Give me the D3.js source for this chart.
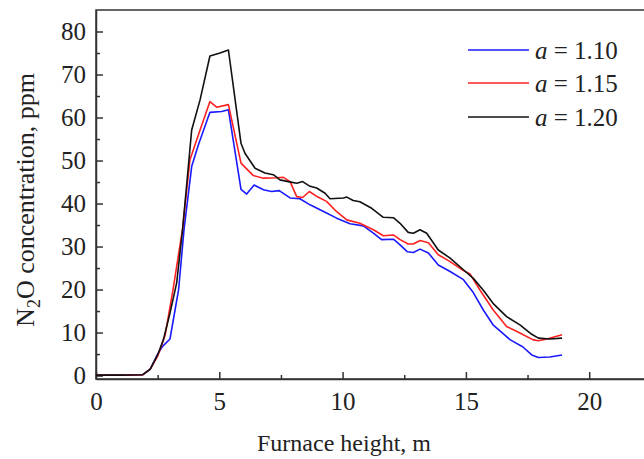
<!DOCTYPE html>
<html>
<head>
<meta charset="utf-8">
<script src="https://cdn.jsdelivr.net/npm/d3@7"></script>
<style>
  body { margin: 0; background: #fff; }
  svg { display: block; }
  text { font-family: "Liberation Serif", "Times New Roman", serif; fill: #222; }
</style>
</head>
<body>
<svg id="chart" width="644" height="459"></svg>
<script>
// ---- data ----
const blueX = [0, 1, 1.9, 2.2, 2.5, 2.7, 3.0, 3.35, 3.57, 3.88, 4.15, 4.62, 5.1, 5.37, 5.88, 6.11, 6.41, 6.79, 7.12, 7.43, 7.87, 8.27, 8.68, 9.35, 9.76, 10.3, 10.84, 11.25, 11.58, 12.06, 12.33, 12.62, 12.87, 13.14, 13.48, 13.88, 14.36, 14.9, 15.3, 15.7, 16.1, 16.8, 17.3, 17.67, 17.94, 18.4, 18.9];
const blueY = [0.1, 0.1, 0.2, 1.5, 5.0, 6.8, 8.5, 20, 34, 48.6, 53.6, 61.2, 61.4, 61.8, 43.3, 42.2, 44.3, 43.2, 42.8, 43.0, 41.3, 41.1, 39.7, 37.8, 36.6, 35.3, 34.8, 33.1, 31.6, 31.7, 30.4, 28.8, 28.6, 29.4, 28.5, 25.7, 24.2, 22.3, 19.3, 15.3, 11.8, 8.3, 6.7, 4.8, 4.2, 4.3, 4.8];

const redX = [0, 1, 1.9, 2.2, 2.5, 2.8, 3.13, 3.51, 3.81, 4.22, 4.62, 4.89, 5.37, 5.88, 6.38, 6.79, 7.33, 7.6, 7.87, 8.14, 8.38, 8.65, 9.0, 9.35, 9.76, 10.17, 10.7, 11.25, 11.65, 12.06, 12.33, 12.66, 12.87, 13.14, 13.48, 13.88, 14.36, 14.9, 15.17, 15.57, 16.1, 16.65, 17.19, 17.73, 17.94, 18.28, 18.9];
const redY = [0.1, 0.1, 0.2, 1.5, 4.5, 9.3, 20.2, 34.1, 50.2, 57.1, 63.7, 62.4, 63.0, 49.4, 46.5, 45.9, 46.0, 46.1, 45.1, 41.6, 41.4, 42.8, 41.5, 40.5, 38.1, 36.2, 35.4, 33.9, 32.5, 32.7, 31.6, 30.6, 30.6, 31.4, 30.9, 28.1, 26.5, 24.4, 23.6, 19.9, 15.3, 11.4, 9.9, 8.3, 8.1, 8.5, 9.5];

const blackX = [0, 1, 1.9, 2.2, 2.5, 2.73, 3.0, 3.27, 3.51, 3.88, 4.22, 4.62, 5.03, 5.37, 5.88, 6.04, 6.45, 6.85, 7.19, 7.46, 7.8, 8.14, 8.38, 8.68, 8.95, 9.29, 9.49, 10.03, 10.17, 10.43, 10.7, 11.18, 11.65, 12.06, 12.33, 12.66, 12.87, 13.14, 13.41, 13.88, 14.36, 14.9, 15.3, 15.7, 16.1, 16.65, 17.19, 17.67, 17.94, 18.4, 18.9];
const blackY = [0.1, 0.1, 0.2, 1.5, 4.8, 8.3, 14.5, 21.5, 33.9, 57.1, 64.1, 74.3, 75.0, 75.7, 54.0, 51.7, 48.2, 47.1, 46.7, 45.5, 45.1, 44.7, 45.1, 44.0, 43.6, 42.4, 41.1, 41.3, 41.5, 40.7, 40.4, 38.9, 36.8, 36.7, 35.4, 33.3, 33.1, 33.9, 33.1, 29.2, 27.3, 24.6, 22.6, 19.9, 16.8, 13.7, 11.8, 9.6, 8.7, 8.5, 8.7];

const seriesLabels = ["1.10", "1.15", "1.20"];
const seriesColors = ["#1a1aff", "#ff2020", "#111111"];
const xTicks = [0, 5, 10, 15, 20];
const yTicks = [0, 10, 20, 30, 40, 50, 60, 70, 80];
const xLabel = "Furnace height, m";

// ---- layout ----
const svg = d3.select("#chart");
const mLeft = 96, mTop = 10, mBottom = 379;
const x = d3.scaleLinear().domain([0, 22.5]).range([mLeft, mLeft + 22.5 * 24.66]);
const y = d3.scaleLinear().domain([-0.8, 85]).range([mBottom, mTop]);

const axisColor = "#333";

// frame (top + right off-canvas)
svg.append("rect")
  .attr("x", mLeft).attr("y", mTop)
  .attr("width", x(22.5) - mLeft).attr("height", mBottom - mTop)
  .attr("fill", "none").attr("stroke", axisColor).attr("stroke-width", 1.5);

// x axis
const xAxis = d3.axisBottom(x).tickValues(xTicks).tickSizeInner(-7).tickSizeOuter(0).tickPadding(13).tickFormat(d3.format("d"));
const gx = svg.append("g").attr("transform", `translate(0,${mBottom})`).call(xAxis);
gx.select(".domain").attr("stroke", axisColor).attr("stroke-width", 1.5);
gx.selectAll(".tick line").attr("stroke", axisColor).attr("stroke-width", 1.5);
gx.selectAll("text").style("font-size", "25px");
const xMinor = d3.axisBottom(x).tickValues([2.5, 7.5, 12.5, 17.5]).tickSizeInner(-4).tickSizeOuter(0).tickFormat("");
const gxm = svg.append("g").attr("transform", `translate(0,${mBottom})`).call(xMinor);
gxm.select(".domain").remove();
gxm.selectAll(".tick line").attr("stroke", axisColor).attr("stroke-width", 1.5);

// y axis
const yAxis = d3.axisLeft(y).tickValues(yTicks).tickSizeInner(-7).tickSizeOuter(0).tickPadding(10).tickFormat(d3.format("d"));
const gy = svg.append("g").attr("transform", `translate(${mLeft},0)`).call(yAxis);
gy.select(".domain").attr("stroke", axisColor).attr("stroke-width", 1.5);
gy.selectAll(".tick line").attr("stroke", axisColor).attr("stroke-width", 1.5);
gy.selectAll("text").style("font-size", "25px");
const yMinor = d3.axisLeft(y).tickValues([5, 15, 25, 35, 45, 55, 65, 75]).tickSizeInner(-4).tickSizeOuter(0).tickFormat("");
const gym = svg.append("g").attr("transform", `translate(${mLeft},0)`).call(yMinor);
gym.select(".domain").remove();
gym.selectAll(".tick line").attr("stroke", axisColor).attr("stroke-width", 1.5);

// lines
const line = d3.line().x(d => x(d[0])).y(d => y(d[1]));
const series = [
  d3.zip(blueX, blueY),
  d3.zip(redX, redY),
  d3.zip(blackX, blackY)
];
series.forEach((s, i) => {
  svg.append("path").datum(s)
    .attr("d", line)
    .attr("fill", "none")
    .attr("stroke", seriesColors[i])
    .attr("stroke-width", 1.6)
    .attr("stroke-linejoin", "round");
});

// axis titles
svg.append("text")
  .attr("x", 344).attr("y", 451)
  .attr("text-anchor", "middle")
  .style("font-size", "24px")
  .text(xLabel);

const yt = svg.append("text")
  .attr("transform", "translate(34,200) rotate(-90)")
  .attr("text-anchor", "middle")
  .style("font-size", "26px");
yt.append("tspan").text("N");
yt.append("tspan").style("font-size", "18px").attr("dy", 6).text("2");
yt.append("tspan").attr("dy", -6).text("O concentration, ppm");

// legend
const legendY = [50, 83, 117];
seriesLabels.forEach((lab, i) => {
  svg.append("line")
    .attr("x1", 468).attr("x2", 529)
    .attr("y1", legendY[i]).attr("y2", legendY[i])
    .attr("stroke", seriesColors[i]).attr("stroke-width", 1.6);
  const t = svg.append("text")
    .attr("x", 535).attr("y", legendY[i] + 8.5)
    .style("font-size", "25px");
  t.append("tspan").attr("font-style", "italic").text("a");
  t.append("tspan").text(" = " + lab);
});
</script>
</body>
</html>
